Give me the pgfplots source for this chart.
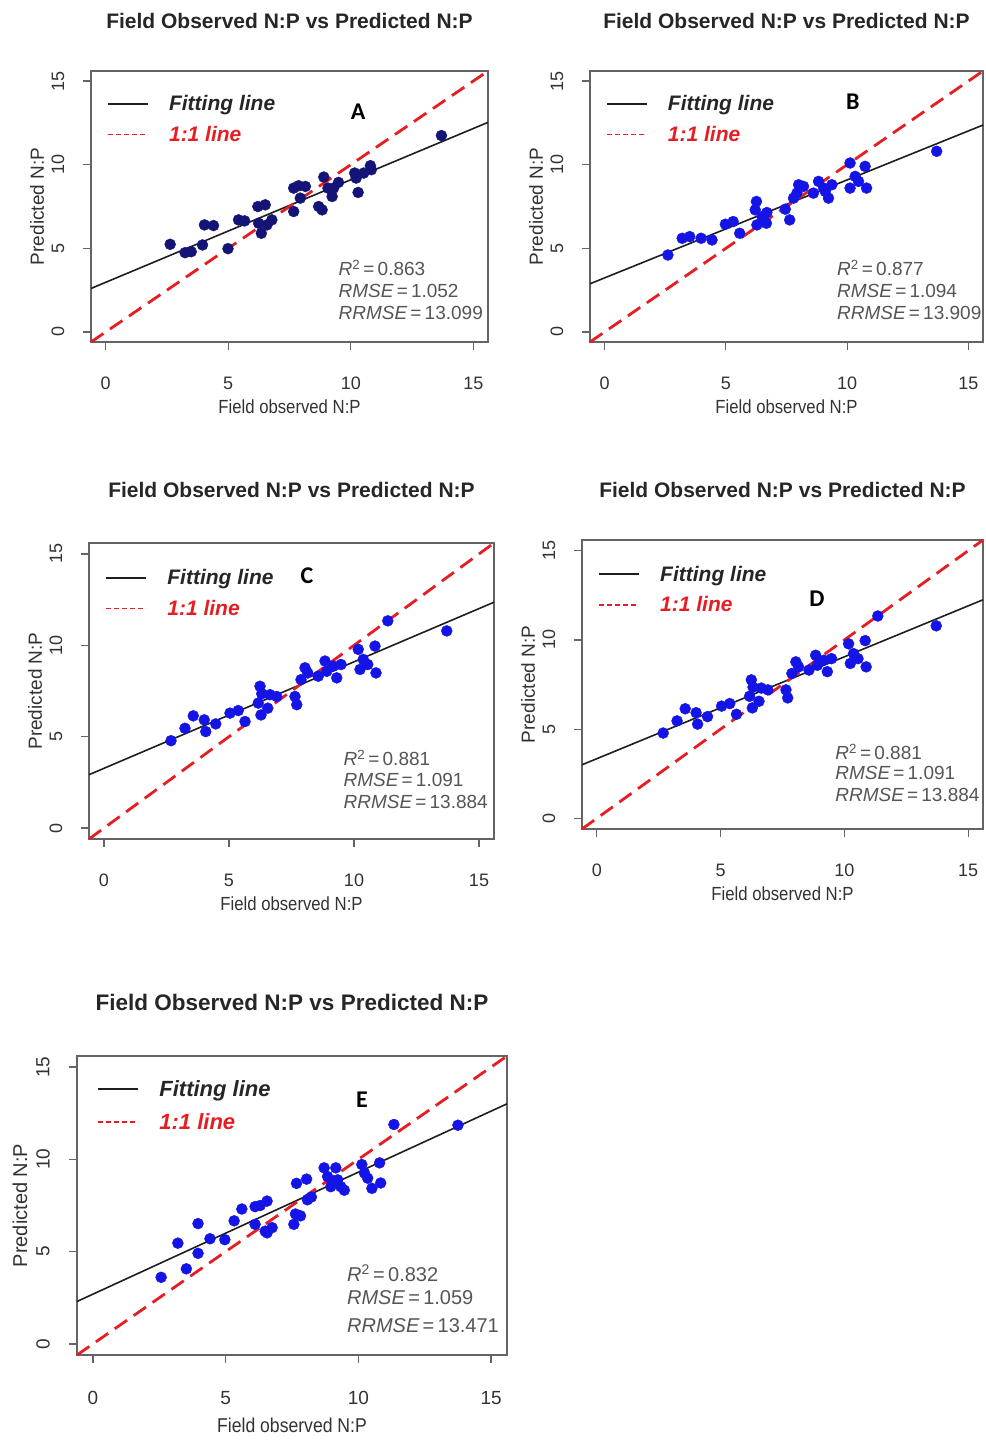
\documentclass[border=0pt]{standalone}
\usepackage{pgfplots}
\pgfplotsset{compat=1.18}
\usepackage{pgfplotstable}
\usepackage{fontspec}
\setmainfont{Liberation Sans}
\newfontfamily\narrowfont[FakeStretch=0.88]{Liberation Sans}
\newfontfamily\letterfont{Carlito}
\definecolor{navyA}{RGB}{20,20,120}
\definecolor{blueP}{RGB}{20,20,230}
\definecolor{redL}{RGB}{230,30,35}
\definecolor{fitL}{RGB}{30,30,30}
\definecolor{frameC}{RGB}{100,100,100}
\definecolor{txtC}{RGB}{50,50,50}
\definecolor{statC}{RGB}{85,85,85}

\pgfplotstableread{
x y
2.63 5.24
3.24 4.74
3.49 4.80
3.95 5.20
4.03 6.40
4.40 6.36
4.99 4.98
5.42 6.70
5.67 6.64
6.21 7.50
6.51 7.60
6.24 6.50
6.35 5.90
6.58 6.40
6.78 6.70
7.67 8.60
7.87 8.74
8.15 8.70
7.67 7.20
7.94 8.00
8.69 7.50
8.83 7.30
8.90 9.26
9.07 8.60
9.24 8.10
9.30 8.60
9.50 8.94
10.16 9.50
10.22 9.20
10.30 8.34
10.53 9.50
10.80 9.94
10.84 9.70
13.70 11.74
}\dataA

\pgfplotstableread{
x y
2.61 4.60
3.20 5.60
3.51 5.70
3.98 5.60
4.43 5.50
4.98 6.44
5.30 6.60
5.57 5.90
6.26 7.80
6.21 7.30
6.28 6.40
6.49 6.90
6.69 7.14
6.67 6.50
7.45 7.34
7.63 6.70
7.79 8.00
8.00 8.80
8.20 8.70
7.93 8.30
8.61 8.30
8.82 9.00
9.03 8.60
9.23 8.00
9.37 8.80
9.10 8.40
10.12 10.10
10.12 8.60
10.33 9.30
10.47 9.00
10.74 9.90
10.80 8.60
13.69 10.80
}\dataB

\pgfplotstableread{
x y
2.68 4.78
3.24 5.46
3.57 6.14
4.01 5.92
4.07 5.28
4.47 5.70
5.04 6.29
5.37 6.43
5.64 5.83
6.24 7.76
6.31 7.35
6.17 6.84
6.28 6.19
6.55 6.56
6.64 7.30
6.91 7.20
7.64 7.20
7.71 6.75
7.88 8.12
8.04 8.77
8.15 8.49
8.57 8.31
8.84 9.14
8.91 8.58
9.17 8.86
9.31 8.22
9.48 8.95
10.17 9.78
10.24 8.68
10.37 9.23
10.55 8.95
10.84 9.96
10.88 8.49
11.35 11.34
13.71 10.79
}\dataC

\pgfplotstableread{
x y
2.57 3.61
3.20 5.46
3.52 4.07
3.96 6.52
3.96 4.91
4.41 5.70
4.97 5.65
5.32 6.67
5.61 7.31
6.11 7.44
6.30 7.50
6.56 7.74
6.11 6.48
6.49 6.11
6.75 6.30
6.56 6.02
7.57 6.48
7.63 7.04
7.82 6.94
7.67 8.70
8.05 8.93
8.08 7.81
8.23 7.96
8.71 9.54
8.84 9.07
8.96 8.52
9.15 9.54
9.22 8.89
9.34 8.52
9.47 8.33
9.03 8.80
10.13 9.72
10.23 9.26
10.35 8.98
10.51 8.43
10.80 9.81
10.84 8.72
11.34 11.89
13.75 11.85
}\dataE

\pgfplotsset{
  panel/.style={
    scale only axis, clip=false,
    xmin=-0.6, xmax=15.6, ymin=-0.6, ymax=15.6,
    xtick={0,5,10,15}, ytick={0,5,10,15},
    xtick pos=lower, ytick pos=left,
    tick align=outside, major tick length=8pt,
    every tick/.style={frameC, line width=1.2pt},
    axis line style={frameC, line width=1.6pt},
    /pgf/number format/assume math mode=true,
    ticklabel style={font=\fontsize{18}{20}\selectfont, text=txtC},
    xticklabel style={anchor=center},
    yticklabel style={rotate=90, anchor=center},
    xticklabel shift=33pt, yticklabel shift=25pt,
    xlabel={Field observed N:P}, ylabel={Predicted N:P},
    xlabel style={at={([yshift=-65pt]axis description cs:0.5,0)}, anchor=center,
      font=\narrowfont\fontsize{19}{21}\selectfont, text=txtC},
    ylabel style={at={([xshift=-54pt]axis description cs:0,0.5)}, anchor=center,
      font=\fontsize{19}{21}\selectfont, text=txtC},
    title={Field Observed N:P vs Predicted N:P},
    title style={at={([yshift=44pt]axis description cs:0.5,1)}, anchor=center,
      font=\bfseries\fontsize{21}{24}\selectfont, text=black!85},
    legend cell align=left,
    legend style={draw=none, fill=none, at={(axis description cs:0.04,0.918)},
      anchor=north west, inner sep=0pt, column sep=10pt, row sep=10pt,
      nodes={inner xsep=10pt, inner ysep=2pt},
      font=\bfseries\itshape\fontsize{21}{24}\selectfont},
  },
  fitline/.style={fitL, line width=1.6pt,
    legend image code/.code={\draw[fitL, line width=2pt] (0pt,0pt) -- (40pt,0pt);}},
  oneline/.style={redL, line width=2.8pt, dash pattern=on 15pt off 8pt,
    legend image code/.code={\draw[redL, line width=1.6pt, dash pattern=on 5pt off 3pt] (0pt,0pt) -- (40pt,0pt);}},
  pts/.style={only marks, mark=*, mark size=5.5pt, forget plot},
}
\newcommand\statfont{\fontsize{19}{21}\selectfont}
\newcommand\letfont{\letterfont\bfseries\fontsize{24}{26}\selectfont}

\begin{document}
\begin{tikzpicture}
\useasboundingbox (0pt,0pt) rectangle (985pt,-1440pt);

% ---------------- A
\begin{axis}[panel, at={(91pt,-71pt)}, anchor=north west, width=397pt, height=271pt]
\addplot[pts, color=navyA, fill=navyA] table {\dataA};
\addplot[fitline] coordinates {(-0.6,2.60) (15.6,12.53)};
\addlegendentry{\textcolor{black!85}{Fitting line}}
\addplot[oneline] coordinates {(-0.6,-0.6) (15.6,15.6)};
\addlegendentry{\textcolor{redL}{1:1 line}}
\node[font=\letfont] at (rel axis cs:0.673,0.849) {A};
\node[anchor=west, font=\statfont, text=statC] at (rel axis cs:0.615,0.273) {{\itshape R}\textsuperscript{2}\,=\,0.863};
\node[anchor=west, font=\statfont, text=statC] at (rel axis cs:0.615,0.190) {{\itshape RMSE}\,=\,1.052};
\node[anchor=west, font=\statfont, text=statC] at (rel axis cs:0.615,0.107) {{\itshape RRMSE}\,=\,13.099};
\end{axis}

% ---------------- B
\begin{axis}[panel, at={(590pt,-71pt)}, anchor=north west, width=393pt, height=271pt]
\addplot[pts, color=blueP, fill=blueP] table {\dataB};
\addplot[fitline] coordinates {(-0.6,2.88) (15.6,12.37)};
\addlegendentry{\textcolor{black!85}{Fitting line}}
\addplot[oneline] coordinates {(-0.6,-0.6) (15.6,15.6)};
\addlegendentry{\textcolor{redL}{1:1 line}}
\node[font=\letfont] at (rel axis cs:0.669,0.886) {B};
\node[anchor=west, font=\statfont, text=statC] at (rel axis cs:0.62,0.273) {{\itshape R}\textsuperscript{2}\,=\,0.877};
\node[anchor=west, font=\statfont, text=statC] at (rel axis cs:0.62,0.190) {{\itshape RMSE}\,=\,1.094};
\node[anchor=west, font=\statfont, text=statC] at (rel axis cs:0.62,0.107) {{\itshape RRMSE}\,=\,13.909};
\end{axis}

% ---------------- C
\begin{axis}[panel, at={(89pt,-543pt)}, anchor=north west, width=405pt, height=296pt,
  title style={at={([yshift=47pt]axis description cs:0.5,1)}}]
\addplot[pts, color=blueP, fill=blueP] table {\dataC};
\addplot[fitline] coordinates {(-0.6,2.92) (15.6,12.36)};
\addlegendentry{\textcolor{black!85}{Fitting line}}
\addplot[oneline] coordinates {(-0.6,-0.6) (15.6,15.6)};
\addlegendentry{\textcolor{redL}{1:1 line}}
\node[font=\letfont] at (rel axis cs:0.538,0.889) {C};
\node[anchor=west, font=\statfont, text=statC] at (rel axis cs:0.62,0.274) {{\itshape R}\textsuperscript{2}\,=\,0.881};
\node[anchor=west, font=\statfont, text=statC] at (rel axis cs:0.62,0.200) {{\itshape RMSE}\,=\,1.091};
\node[anchor=west, font=\statfont, text=statC] at (rel axis cs:0.62,0.125) {{\itshape RRMSE}\,=\,13.884};
\end{axis}

% ---------------- D
\begin{axis}[panel, at={(582pt,-540pt)}, anchor=north west, width=401pt, height=289pt]
\addplot[pts, color=blueP, fill=blueP] table {\dataC};
\addplot[fitline] coordinates {(-0.6,3.00) (15.6,12.25)};
\addlegendentry{\textcolor{black!85}{Fitting line}}
\addplot[oneline] coordinates {(-0.6,-0.6) (15.6,15.6)};
\addlegendentry{\textcolor{redL}{1:1 line}}
\node[font=\letfont] at (rel axis cs:0.586,0.796) {D};
\node[anchor=west, font=\statfont, text=statC] at (rel axis cs:0.623,0.266) {{\itshape R}\textsuperscript{2}\,=\,0.881};
\node[anchor=west, font=\statfont, text=statC] at (rel axis cs:0.623,0.194) {{\itshape RMSE}\,=\,1.091};
\node[anchor=west, font=\statfont, text=statC] at (rel axis cs:0.623,0.118) {{\itshape RRMSE}\,=\,13.884};
\end{axis}

% ---------------- E
\begin{axis}[panel, at={(77pt,-1056pt)}, anchor=north west, width=430pt, height=299pt,
  ticklabel style={font=\fontsize{19}{21}\selectfont},
  xticklabel shift=35pt, yticklabel shift=26pt,
  xlabel style={at={([yshift=-70pt]axis description cs:0.5,0)}, font=\narrowfont\fontsize{20}{22}\selectfont},
  ylabel style={at={([xshift=-57pt]axis description cs:0,0.5)}, font=\fontsize{20}{22}\selectfont},
  title style={at={([yshift=48pt]axis description cs:0.5,1)}, font=\bfseries\fontsize{22.5}{25}\selectfont},
  legend style={font=\bfseries\itshape\fontsize{22}{25}\selectfont, row sep=11pt, at={(axis description cs:0.047,0.925)}}]
\addplot[pts, color=blueP, fill=blueP] table {\dataE};
\addplot[fitline] coordinates {(-0.6,2.30) (15.6,13.01)};
\addlegendentry{\textcolor{black!85}{Fitting line}}
\addplot[oneline] coordinates {(-0.6,-0.6) (15.6,15.6)};
\addlegendentry{\textcolor{redL}{1:1 line}}
\node[font=\letfont] at (rel axis cs:0.663,0.853) {E};
\node[anchor=west, font=\fontsize{20}{22}\selectfont, text=statC] at (rel axis cs:0.62,0.274) {{\itshape R}\textsuperscript{2}\,=\,0.832};
\node[anchor=west, font=\fontsize{20}{22}\selectfont, text=statC] at (rel axis cs:0.62,0.191) {{\itshape RMSE}\,=\,1.059};
\node[anchor=west, font=\fontsize{20}{22}\selectfont, text=statC] at (rel axis cs:0.62,0.100) {{\itshape RRMSE}\,=\,13.471};
\end{axis}
\end{tikzpicture}
\end{document}
